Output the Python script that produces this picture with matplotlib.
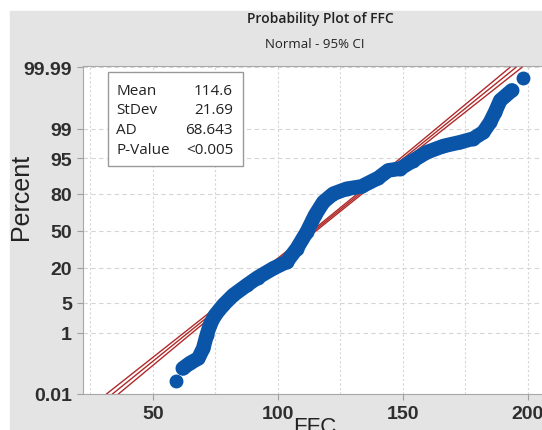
import math
import numpy as np
import matplotlib
matplotlib.use("Agg")
import matplotlib.pyplot as plt
from matplotlib.patches import Rectangle
from matplotlib.ticker import FixedLocator, MultipleLocator

# FFC values and plotting percents
ffc = [59.4, 62.0, 64.9, 68.2, 70.2, 71.6, 72.9, 74.9, 78.2, 82.2,
       87.6, 91.9, 98.2, 103.6, 107.6, 111.6, 114.9, 118.2, 122.2, 127.6,
       133.5, 140.2, 144.2, 148.9, 154.2, 159.6, 166.2, 172.9, 178.2, 182.2,
       184.9, 186.9, 189.0, 193.6, 198.0]
percent = [0.032, 0.085, 0.128, 0.18, 0.37, 0.87, 1.6, 2.7, 4.5, 7.1,
           10.7, 14.2, 19.5, 23.9, 34.1, 48.8, 63.7, 74.2, 80.0, 83.0,
           84.3, 88.5, 91.5, 92.1, 94.5, 96.3, 97.3, 97.8, 98.2, 98.75,
           99.32, 99.65, 99.85, 99.93, 99.974]

mean = 114.6
stdev = 21.69
n_obs = 2500
stat_names = ["Mean", "StDev", "AD", "P-Value"]
stat_values = ["114.6", "21.69", "68.643", "<0.005"]

y_ticks = [0.01, 1, 5, 20, 50, 80, 95, 99, 99.99]
y_labels = ["0.01", "1", "5", "20", "50", "80", "95", "99", "99.99"]
x_ticks = [50, 100, 150, 200]

blue = "#0a55a8"
red = "#b02a2a"

_erf = np.vectorize(math.erf, otypes=[float])


def z_to_pct(z):
    return 50.0 * (1 + _erf(np.asarray(z, dtype=float) / math.sqrt(2)))


def pct_to_z(p):
    p = np.clip(np.asarray(p, dtype=float), 1e-9, 100 - 1e-9)
    lo = np.full(p.shape, -9.0)
    hi = np.full(p.shape, 9.0)
    for _ in range(55):
        mid = (lo + hi) / 2
        below = z_to_pct(mid) < p
        lo = np.where(below, mid, lo)
        hi = np.where(below, hi, mid)
    return (lo + hi) / 2


fig = plt.figure(figsize=(5.42, 4.31), dpi=100)
fig.patch.set_facecolor("white")
fig.patches.append(Rectangle((10 / 542, 0), 1, (431 - 12) / 431,
                             transform=fig.transFigure, color="#e4e4e4",
                             zorder=-10))

ax = fig.add_axes([83 / 542, 36 / 431, 467 / 542, 328 / 431])
ax.set_yscale("function", functions=(pct_to_z, z_to_pct))
ax.set_xlim(22.1, 208.9)
ax.set_ylim(0.0099, 99.9912)

# fitted line and 95% confidence band
p_line = np.concatenate([[0.01], np.linspace(0.02, 99.98, 120), [99.99]])
z_line = pct_to_z(p_line)
fit = mean + z_line * stdev
half = 1.96 * stdev * np.sqrt((1 + z_line ** 2 / 2) / n_obs)
for xs in (fit - half, fit, fit + half):
    ax.plot(xs, p_line, color=red, lw=1.0, zorder=3)

# data
ax.plot(ffc[1:-1], percent[1:-1], color=blue, lw=10.5, solid_capstyle="round",
        solid_joinstyle="round", zorder=4)
ax.plot(ffc, percent, "o", color=blue, ms=9, mec=blue, zorder=5)

ax.yaxis.set_major_locator(FixedLocator(y_ticks))
ax.yaxis.set_minor_locator(FixedLocator([]))
ax.set_yticklabels(y_labels)
ax.xaxis.set_major_locator(FixedLocator(x_ticks))
ax.xaxis.set_minor_locator(MultipleLocator(25))

ax.grid(True, axis="y", which="major", color="#d6d6d6", lw=0.8,
        dashes=(4, 3))
ax.grid(True, axis="x", which="both", color="#d6d6d6", lw=0.8,
        dashes=(2, 2))

for s in ax.spines.values():
    s.set_color("#a8a8a8")
ax.tick_params(axis="both", which="major", length=4, color="#a0a0a0",
               labelsize=14, labelcolor="#2e2e2e", pad=4)
ax.tick_params(axis="x", which="minor", length=0)
for lab in ax.get_xticklabels() + ax.get_yticklabels():
    lab.set_fontfamily("Liberation Sans")
    lab.set_fontweight("bold")

# statistics box
ax.add_patch(Rectangle((0.0535, 0.695), 0.289, 0.2867, transform=ax.transAxes,
                       facecolor="white", edgecolor="#9a9a9a", lw=1,
                       zorder=6))
rows_y = [0.924, 0.866, 0.805, 0.744]
for name, val, yy in zip(stat_names, stat_values, rows_y):
    ax.text(0.0707, yy, name, transform=ax.transAxes, ha="left", va="center",
            fontsize=11, family="Open Sans", color="#222222", zorder=7)
    ax.text(0.3212, yy, val, transform=ax.transAxes, ha="right", va="center",
            fontsize=11, family="Open Sans", color="#222222", zorder=7)

fig.text(320 / 542, 0.956, "Probability Plot of FFC", ha="center",
         va="center", fontsize=10, family="Open Sans", fontweight="semibold",
         color="#222222")
fig.text(315 / 542, 0.896, "Normal - 95% CI", ha="center", va="center",
         fontsize=9.5, family="Open Sans", color="#222222")
fig.text(21 / 542, 0.543, "Percent", rotation=90, ha="center", va="center",
         fontsize=18, family="Liberation Sans", color="#222222")
fig.text(315 / 542, -0.005, "FFC", ha="center", va="baseline",
         fontsize=16, family="Liberation Sans", color="#222222")

fig.savefig("out.png", dpi=100)
